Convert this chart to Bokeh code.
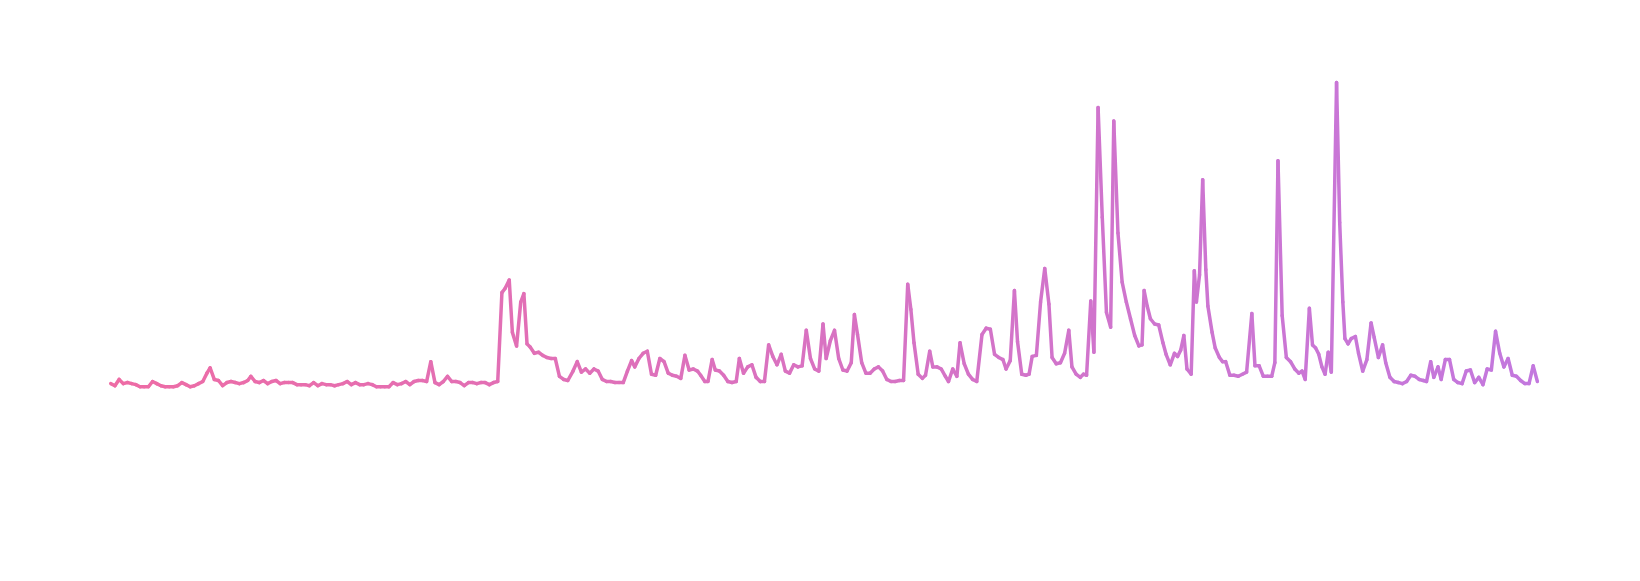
from bokeh.plotting import figure
from bokeh.models import Range1d
from bokeh.embed import file_html
from bokeh.resources import INLINE

# time (arbitrary units) and values
t = [0, 4, 8, 12, 16, 20, 24, 28, 32, 36, 40, 44, 48, 52, 56, 60, 64, 68, 72, 76,
     80, 84, 88, 92, 95, 99, 103, 107, 111, 115, 119, 123, 127, 131, 134, 138, 142, 146, 150, 154,
     158, 162, 166, 170, 174, 178, 182, 186, 190, 194, 198, 202, 206, 210, 214, 218, 222, 226, 230, 234,
     238, 242, 246, 250, 254, 258, 262, 266, 270, 274, 278, 282, 286, 290, 294, 298, 302, 306, 310, 314,
     318, 322, 326, 330, 334, 338, 342, 346, 350, 354, 358, 362, 366, 370, 374, 377, 381, 384, 388, 392,
     395, 398, 401, 405, 409, 413, 417, 421, 425, 429, 433, 437, 442, 446, 450, 454, 458, 462, 466, 470,
     474, 478, 482, 486, 490, 494, 498, 501, 505, 509, 513, 517, 521, 525, 529, 533, 537, 541, 545, 549,
     553, 557, 561, 564, 568, 571, 575, 578, 582, 586, 590, 594, 598, 601, 605, 609, 613, 617, 621, 625,
     629, 633, 637, 641, 645, 649, 653, 657, 661, 665, 669, 673, 677, 681, 684, 688, 692, 696, 700, 704,
     708, 711, 714, 718, 722, 726, 730, 734, 738, 742, 746, 750, 754, 758, 762, 765, 768, 772, 776, 779,
     783, 786, 790, 794, 798, 801, 805, 809, 812, 816, 820, 824, 828, 833, 837, 841, 845, 849, 853, 856,
     860, 864, 867, 871, 875, 878, 881, 885, 889, 893, 897, 900, 904, 908, 912, 916, 919, 923, 927, 930,
     933, 937, 940, 944, 948, 952, 956, 959, 963, 967, 971, 975, 979, 983, 986, 988, 991, 994, 998, 1002,
     1006, 1009, 1013, 1017, 1020, 1023, 1026, 1029, 1033, 1036, 1038, 1041, 1044, 1047, 1049, 1053, 1056, 1060, 1063, 1066,
     1070, 1074, 1078, 1082, 1086, 1091, 1094, 1098, 1102, 1106, 1110, 1113, 1116, 1120, 1124, 1128, 1132, 1136, 1139, 1142,
     1146, 1149, 1152, 1155, 1158, 1161, 1164, 1167, 1172, 1175, 1178, 1180, 1183, 1186, 1190, 1193, 1197, 1201, 1205, 1208,
     1212, 1216, 1219, 1223, 1227, 1231, 1235, 1239, 1243, 1247, 1251, 1255, 1258, 1262, 1265, 1269, 1272, 1276, 1280, 1284,
     1288, 1292, 1296, 1300, 1304, 1308, 1312, 1316, 1320, 1324, 1328, 1332, 1336, 1340, 1344, 1348, 1352, 1356, 1360, 1364]

v = [6, 4, 10, 6, 7, 6, 5, 3, 3, 3, 8, 6, 4, 3, 3, 3, 4, 7, 5, 3,
     4, 6, 8, 16, 21, 10, 9, 4, 7, 8, 7, 6, 7, 9, 13, 8, 7, 9, 6, 8,
     9, 6, 7, 7, 7, 5, 5, 5, 4, 7, 4, 6, 5, 5, 4, 5, 6, 8, 5, 7,
     5, 5, 6, 5, 3, 3, 3, 3, 7, 5, 6, 8, 5, 8, 9, 9, 8, 27, 7, 5,
     8, 13, 8, 8, 7, 4, 7, 7, 6, 7, 7, 5, 7, 8, 93, 97, 105, 55, 42, 84,
     92, 44, 41, 35, 36, 33, 31, 30, 30, 13, 10, 9, 18, 27, 17, 20, 16, 20, 18, 10,
     8, 8, 7, 7, 7, 18, 28, 22, 30, 35, 37, 15, 14, 30, 27, 16, 14, 13, 11, 33,
     19, 20, 18, 14, 8, 8, 29, 19, 18, 14, 8, 7, 8, 30, 16, 22, 24, 12, 8, 8,
     43, 32, 24, 34, 18, 16, 24, 22, 23, 57, 30, 20, 18, 63, 30, 47, 57, 30, 19, 18,
     26, 72, 53, 26, 16, 16, 20, 22, 18, 10, 8, 8, 9, 9, 101, 77, 45, 15, 11, 14,
     37, 22, 22, 20, 13, 8, 20, 13, 45, 25, 15, 10, 8, 53, 59, 58, 34, 31, 29, 20,
     28, 95, 46, 15, 14, 15, 32, 33, 84, 116, 82, 31, 25, 26, 35, 57, 22, 15, 12, 15,
     14, 85, 36, 270, 165, 74, 60, 257, 150, 103, 84, 68, 52, 42, 43, 95, 80, 68, 63, 62,
     45, 34, 24, 35, 32, 38, 52, 20, 15, 114, 84, 110, 201, 115, 80, 55, 40, 31, 27, 27,
     14, 14, 13, 15, 17, 73, 23, 23, 13, 13, 13, 26, 219, 71, 31, 27, 20, 16, 18, 10,
     78, 43, 40, 34, 22, 15, 36, 17, 294, 160, 84, 49, 44, 49, 51, 35, 18, 29, 64, 50,
     31, 43, 26, 12, 8, 7, 6, 8, 14, 13, 10, 9, 8, 27, 12, 22, 10, 29, 29, 10,
     7, 6, 18, 19, 7, 12, 5, 20, 19, 56, 35, 22, 30, 14, 13, 9, 6, 6, 23, 8]

start_rgb = (238, 108, 165)
end_rgb = (195, 120, 222)

W, H = 1624, 565
p = figure(width=W, height=H, output_backend="svg", toolbar_location=None,
           x_axis_location=None, y_axis_location=None,
           min_border=0, min_border_left=0, min_border_right=0,
           min_border_top=0, min_border_bottom=0)
p.x_range = Range1d(-105.4, 1447.3)
p.y_range = Range1d(-167.9, 372.3)
p.grid.visible = False
p.outline_line_color = None
p.background_fill_color = "white"
p.border_fill_color = "white"

tmax = t[-1]
cols = []
for i in range(len(t) - 1):
    f = ((t[i] + t[i + 1]) / 2) / tmax
    r = int(round(start_rgb[0] + (end_rgb[0] - start_rgb[0]) * f))
    g = int(round(start_rgb[1] + (end_rgb[1] - start_rgb[1]) * f))
    b = int(round(start_rgb[2] + (end_rgb[2] - start_rgb[2]) * f))
    cols.append("#%02x%02x%02x" % (r, g, b))

p.segment(x0=t[:-1], y0=v[:-1], x1=t[1:], y1=v[1:], line_color=cols,
          line_width=3.5, line_cap="round", line_join="round")

open("out.html", "w").write(file_html(p, INLINE))
